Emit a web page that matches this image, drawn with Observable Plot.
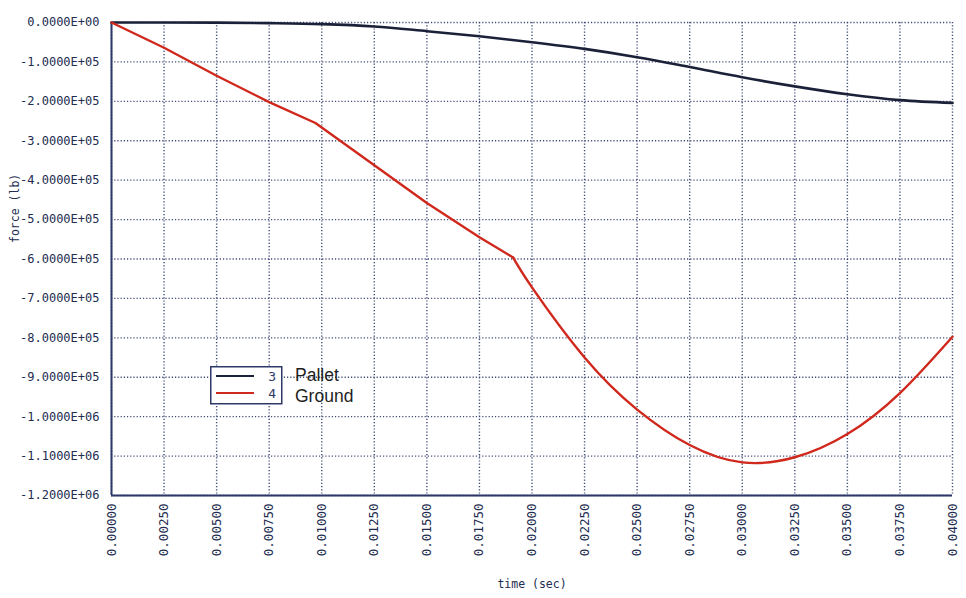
<!DOCTYPE html>
<html>
<head>
<meta charset="utf-8">
<script src="https://cdn.jsdelivr.net/npm/d3@7"></script>
<script src="https://cdn.jsdelivr.net/npm/@observablehq/plot@0.6"></script>
<style>
  body { margin: 0; background: #fff; }
  #chart { position: relative; width: 966px; height: 598px; background: #fff; }
  #legend { position: absolute; left: 210px; top: 366px; }
</style>
</head>
<body>
<div id="chart"></div>
<script>
// Node 3 (pallet) force history
const palletTime  = [0, 0.0025, 0.005, 0.0075, 0.01, 0.0125, 0.015, 0.0175, 0.02, 0.0225, 0.025, 0.0275, 0.03, 0.0325, 0.035, 0.0375, 0.04];
const palletForce = [0, 0, -0.003e5, -0.015e5, -0.04e5, -0.1e5, -0.22e5, -0.35e5, -0.5e5, -0.67e5, -0.88e5, -1.13e5, -1.39e5, -1.62e5, -1.82e5, -1.97e5, -2.04e5];

// Node 4 (ground) force history
const groundTime  = [0, 0.0025, 0.005, 0.0075, 0.0097, 0.0125, 0.015, 0.0175, 0.0191, 0.02, 0.0225, 0.025, 0.0275, 0.03, 0.0325, 0.035, 0.0375, 0.04];
const groundForce = [0, -0.64e5, -1.35e5, -2.02e5, -2.55e5, -3.62e5, -4.58e5, -5.45e5, -5.96e5, -6.72e5, -8.5e5, -9.82e5, -10.72e5, -11.16e5, -11.03e5, -10.44e5, -9.4e5, -7.97e5];
// time of the second slope break, after which the ground force curves smoothly
const groundBreak = 0.0191;

// Axis ticks
const xTicks = [0, 0.0025, 0.005, 0.0075, 0.01, 0.0125, 0.015, 0.0175, 0.02, 0.0225, 0.025, 0.0275, 0.03, 0.0325, 0.035, 0.0375, 0.04];
const yTicks = [0, -1e5, -2e5, -3e5, -4e5, -5e5, -6e5, -7e5, -8e5, -9e5, -1e6, -1.1e6, -1.2e6];

// Legend entries
const seriesIds    = ["3", "4"];
const seriesNames  = ["Pallet", "Ground"];
const seriesColors = ["#1b2138", "#d0281c"];

const pallet = palletTime.map((t, i) => ({t, f: palletForce[i]}));
const ground = groundTime.map((t, i) => ({t, f: groundForce[i]}));
const groundPiecewise = ground.filter(d => d.t <= groundBreak);
const groundSmooth = ground.filter(d => d.t >= groundBreak);

// Fortran-style scientific label: -1.0000E+05
function sci(v) {
  const [m, e] = v.toExponential(4).toUpperCase().split("E");
  return m + "E" + e[0] + e.slice(1).padStart(2, "0");
}

const navy = "#2c3868";
const mono = "'DejaVu Sans Mono', monospace";

const chart = Plot.plot({
  width: 966,
  height: 598,
  marginLeft: 111,
  marginRight: 14,
  marginTop: 22,
  marginBottom: 103,
  style: { background: "#fff", fontFamily: mono },
  x: { domain: [0, 0.04] },
  y: { domain: [-1.2e6, 0] },
  marks: [
    Plot.gridX(xTicks, { stroke: navy, strokeOpacity: 0.9, strokeWidth: 1.4, strokeDasharray: "1.2,2" }),
    Plot.gridY(yTicks, { stroke: navy, strokeOpacity: 0.9, strokeWidth: 1.4, strokeDasharray: "1.2,2" }),
    Plot.ruleX([0], { stroke: navy, strokeWidth: 2 }),
    Plot.ruleY([-1.2e6], { stroke: navy, strokeWidth: 2 }),
    Plot.axisY(yTicks, {
      tickSize: 0, tickPadding: 12, tickFormat: sci,
      fontSize: 12, fill: "#222c50", label: null
    }),
    Plot.axisX(xTicks, {
      tickSize: 0, tickPadding: 8, tickRotate: -90, tickFormat: d => d.toFixed(5),
      fontSize: 12.5, fill: "#222c50", label: null,
      style: { letterSpacing: "1.4px" }
    }),
    Plot.text(["time (sec)"], { frameAnchor: "bottom", dy: 92, fontSize: 11.5, fill: "#222c50" }),
    Plot.text(["force (lb)"], { frameAnchor: "left", rotate: -90, dx: -96, dy: -16, fontSize: 11.5, fill: "#222c50" }),
    Plot.line(pallet, { x: "t", y: "f", stroke: seriesColors[0], strokeWidth: 2.6, curve: "monotone-x" }),
    Plot.line(groundPiecewise, { x: "t", y: "f", stroke: seriesColors[1], strokeWidth: 2.4, curve: "linear" }),
    Plot.line(groundSmooth, { x: "t", y: "f", stroke: seriesColors[1], strokeWidth: 2.4, curve: "natural" })
  ]
});

const root = document.getElementById("chart");
root.appendChild(chart);

// Legend box with line samples, node ids, and names beside it
const legend = d3.select(root).append("div").attr("id", "legend");
const lsvg = legend.append("svg")
  .attr("width", 180).attr("height", 42)
  .style("overflow", "visible");
lsvg.append("rect")
  .attr("x", 0.75).attr("y", 0.75).attr("width", 71).attr("height", 37)
  .attr("fill", "#fff").attr("stroke", navy).attr("stroke-width", 1.5);
seriesIds.forEach((id, i) => {
  const y = 10 + i * 17;
  lsvg.append("line")
    .attr("x1", 6).attr("x2", 44).attr("y1", y).attr("y2", y)
    .attr("stroke", seriesColors[i]).attr("stroke-width", 2);
  lsvg.append("text")
    .attr("x", 66).attr("y", y + 4.5).attr("text-anchor", "end")
    .attr("font-family", mono).attr("font-size", 13).attr("fill", navy)
    .text(id);
  lsvg.append("text")
    .attr("x", 85).attr("y", 15 + i * 21)
    .attr("font-family", "'Liberation Sans', Arial, sans-serif").attr("font-size", 17.5).attr("fill", "#1e1e1e")
    .text(seriesNames[i]);
});
</script>
</body>
</html>
